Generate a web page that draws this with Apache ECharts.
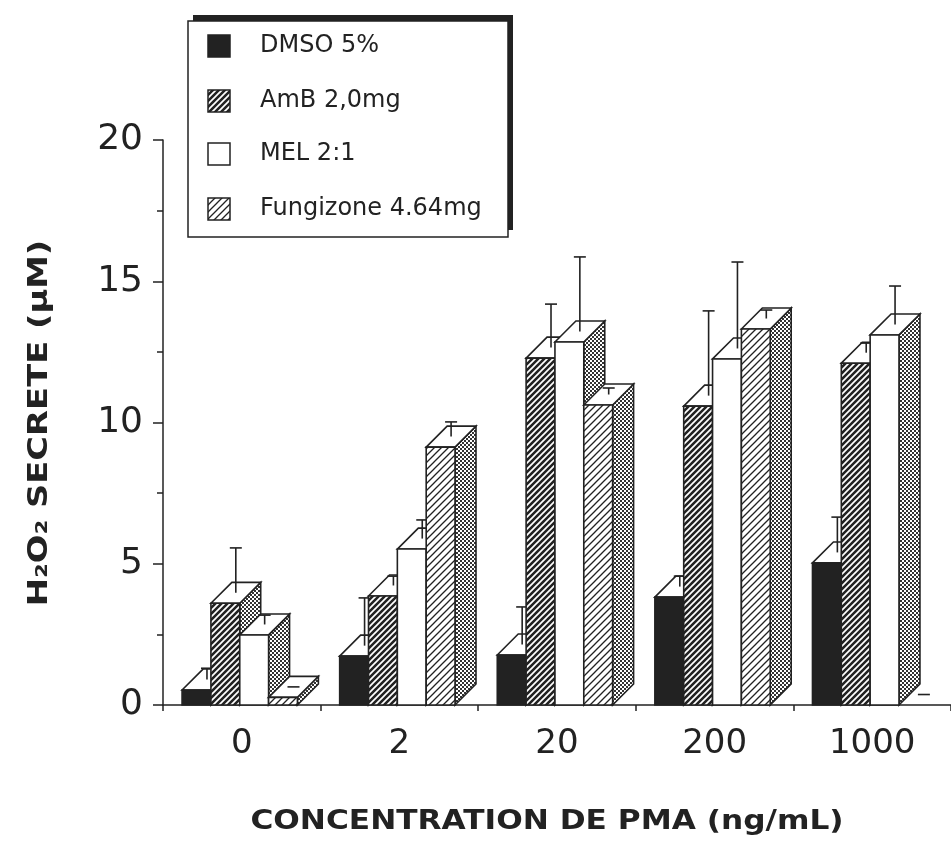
<!DOCTYPE html>
<html><head><meta charset="utf-8">
<script src="https://cdn.jsdelivr.net/npm/echarts@6/dist/echarts.min.js"></script>
<style>html,body{margin:0;padding:0;background:#fff}#c{width:951px;height:844px}</style>
</head><body><div id="c"></div>
<script>
const categories = ['0', '2', '20', '200', '1000'];
const seriesNames = ['DMSO 5%', 'AmB 2,0mg', 'MEL 2:1', 'Fungizone 4.64mg'];
const dmso = [0.53, 1.73, 1.77, 3.82, 5.03];
const dmsoErr = [0.40, 1.69, 1.33, 0.37, 1.25];
const amb = [3.60, 3.86, 12.28, 10.58, 12.10];
const ambErr = [1.59, 0.33, 1.54, 3.00, 0.34];
const mel = [2.48, 5.52, 12.85, 12.25, 13.10];
const melErr = [0.33, 0.66, 2.64, 3.06, 1.36];
const fungi = [0.27, 9.13, 10.62, 13.31, 0];
const fungiErr = [0, 0.52, 0.23, 0.30, 0];
const yMin = 0, yMax = 20, yStep = 5;

const INK = '#222';
function makeCanvas(w, h, draw) {
  const c = document.createElement('canvas'); c.width = w; c.height = h;
  const g = c.getContext('2d'); draw(g); return c;
}
function diag(g, s) {
  g.beginPath();
  g.moveTo(0, s); g.lineTo(s, 0);
  g.moveTo(-2, 2); g.lineTo(2, -2);
  g.moveTo(s - 2, s + 2); g.lineTo(s + 2, s - 2);
  g.stroke();
}
const darkStripe = makeCanvas(6, 6, g => {
  g.fillStyle = INK; g.fillRect(0, 0, 6, 6);
  g.strokeStyle = '#fff'; g.lineWidth = 1.7; diag(g, 6);
});
const lightStripe = makeCanvas(7, 7, g => {
  g.fillStyle = '#fff'; g.fillRect(0, 0, 7, 7);
  g.strokeStyle = INK; g.lineWidth = 1.3; diag(g, 7);
});
const stipple = makeCanvas(4, 4, g => {
  g.fillStyle = '#fff'; g.fillRect(0, 0, 4, 4);
  g.fillStyle = '#333'; g.fillRect(0, 0, 2, 2); g.fillRect(2, 2, 2, 2);
});
const pat = c => ({ image: c, repeat: 'repeat' });
const fronts = [INK, pat(darkStripe), '#fff', pat(lightStripe)];

function makeRender(idx) {
  return function (params, api) {
    const ci = api.value(0), v = api.value(1), e = api.value(2);
    const base = api.coord([ci, 0]);
    const top = api.coord([ci, v]);
    const errTop = api.coord([ci, v + e]);
    const cw = api.size([1, 0])[0];
    const bw = cw * 0.183, d = cw * 0.133;
    const x0 = base[0] - 2 * bw - cw * 0.013 + idx * bw;
    const x1 = x0 + bw, yb = base[1], yt = top[1];
    const ln = { stroke: INK, lineWidth: 1.6 };
    const children = [];
    if (v > 0) {
      children.push({ type: 'polygon', shape: { points: [[x1, yb], [x1 + d, yb - d], [x1 + d, yt - d], [x1, yt]] },
        style: Object.assign({ fill: pat(stipple) }, ln) });
      children.push({ type: 'polygon', shape: { points: [[x0, yt], [x0 + d, yt - d], [x1 + d, yt - d], [x1, yt]] },
        style: Object.assign({ fill: '#fff' }, ln) });
      children.push({ type: 'rect', shape: { x: x0, y: yt, width: bw, height: yb - yt },
        style: Object.assign({ fill: fronts[idx] }, ln) });
    }
    const cx = x0 + bw / 2 + d / 2, ey = errTop[1] - d / 2;
    if (e > 0) {
      children.push({ type: 'line', shape: { x1: cx, y1: yt - d / 2, x2: cx, y2: ey }, style: ln });
    }
    children.push({ type: 'line', shape: { x1: cx - 6, y1: ey, x2: cx + 6, y2: ey }, style: ln });
    return { type: 'group', children };
  };
}
const vals = [dmso, amb, mel, fungi];
const errs = [dmsoErr, ambErr, melErr, fungiErr];
const series = seriesNames.map((n, i) => ({
  name: n, type: 'custom', renderItem: makeRender(i),
  encode: { x: 0, y: 1 },
  data: categories.map((c, k) => [k, vals[i][k], errs[i][k]])
}));

// legend built as graphics
const legendIcons = [INK, pat(darkStripe), '#fff', pat(lightStripe)];
const rowsY = [46, 101, 154, 209];
const legend = [
  { type: 'rect', shape: { x: 193, y: 15, width: 320, height: 215 }, style: { fill: INK }, z: 100 },
  { type: 'rect', shape: { x: 188, y: 21, width: 320, height: 216 }, style: { fill: '#fff', stroke: INK, lineWidth: 1.5 }, z: 101 }
];
seriesNames.forEach((n, i) => {
  legend.push({ type: 'rect', shape: { x: 208, y: rowsY[i] - 11, width: 22, height: 22 },
    style: { fill: legendIcons[i], stroke: INK, lineWidth: 1.5 }, z: 102 });
  legend.push({ type: 'text', x: 260, y: rowsY[i],
    style: { text: n, font: '24px "DejaVu Sans"', fill: INK, align: 'left', verticalAlign: 'middle' }, z: 102 });
});

const chart = echarts.init(document.getElementById('c'), null, { renderer: 'canvas' });
chart.setOption({
  animation: false,
  backgroundColor: '#fff',
  grid: { left: 163, top: 140, width: 792, height: 565 },
  xAxis: {
    type: 'category', data: categories, boundaryGap: true,
    axisLine: { lineStyle: { color: INK, width: 1.5 } },
    axisTick: { show: true, length: 6, lineStyle: { color: INK, width: 1.5 } },
    axisLabel: { fontFamily: 'DejaVu Sans', fontSize: 34, color: INK, margin: 22 }
  },
  yAxis: {
    type: 'value', min: yMin, max: yMax, interval: yStep,
    axisLine: { show: true, lineStyle: { color: INK, width: 1.5 } },
    axisTick: { show: true, length: 10, lineStyle: { color: INK, width: 1.5 } },
    minorTick: { show: true, splitNumber: 2, length: 6, lineStyle: { color: INK, width: 1.5 } },
    splitLine: { show: false },
    axisLabel: { fontFamily: 'DejaVu Sans', fontSize: 36, color: INK, margin: 20 }
  },
  series: series,
  graphic: legend.concat([
    { type: 'text', x: 547, y: 822, scaleX: 1.2,
      style: { text: 'CONCENTRATION DE PMA (ng/mL)', font: 'bold 26px "DejaVu Sans"', fill: INK, align: 'center', verticalAlign: 'middle' } },
    { type: 'text', x: 40, y: 423, rotation: Math.PI / 2, scaleX: 1.25,
      style: { text: 'H₂O₂ SECRETE (µM)', font: 'bold 27px "DejaVu Sans"', fill: INK, align: 'center', verticalAlign: 'middle' } }
  ])
});
</script></body></html>
